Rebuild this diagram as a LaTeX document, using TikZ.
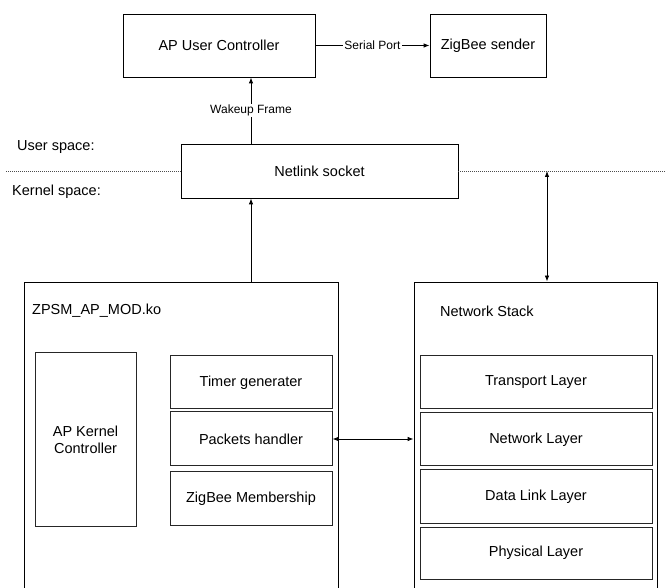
\documentclass[tikz,border=0pt]{standalone}
\usepackage{fontspec}
\setmainfont{Liberation Sans}
\usetikzlibrary{arrows.meta}
\begin{document}
\begin{tikzpicture}[x=1pt,y=-1pt,
  box/.style={draw=black, line width=0.8pt, inner sep=0pt, font=\fontsize{14.5}{17}\selectfont, align=center},
  inbox/.style={draw=black!85, line width=1pt, inner sep=0pt, font=\fontsize{14.5}{17}\selectfont, align=center},
  txt/.style={font=\fontsize{14.5}{17}\selectfont, inner sep=0pt},
  lbl/.style={font=\fontsize{12}{14}\selectfont, fill=white, inner sep=1pt},
  arr/.style={line width=0.8pt, -{Latex[length=6pt,width=4.5pt]}},
  darr/.style={line width=0.8pt, {Latex[length=6pt,width=4.5pt]}-{Latex[length=6pt,width=4.5pt]}},
  dotline/.style={line width=0.6pt, black!70, dash pattern=on 1pt off 1pt}]
\useasboundingbox (0,0) rectangle (665,588);
\clip (0,0) rectangle (665,588);
% top
\node[box, minimum width=192, minimum height=63] (AP) at (219,45.5) {AP User Controller};
\node[box, minimum width=116, minimum height=63] (ZB) at (488,45.5) {ZigBee sender};
\node[box, minimum width=277, minimum height=54] (NL) at (319.5,171) {Netlink socket};
% outer boxes (open at the bottom)
\node[box, minimum width=314, minimum height=338] (ZP) at (181,451) {};
\node[box, minimum width=243, minimum height=338] (NS) at (535.5,451) {};
\node[txt, anchor=west] (zpl) at (32,311) {ZPSM\_AP\_MOD.ko};
\node[txt, anchor=west] (nsl) at (440,311) {Network Stack};
% inner left
\node[inbox, minimum width=101, minimum height=173] (AK) at (85.5,439.5) {AP Kernel\\Controller};
\node[inbox, minimum width=162, minimum height=53] (TG) at (251,382.5) {Timer generater};
\node[inbox, minimum width=162, minimum height=54] (PH) at (251,439) {Packets handler};
\node[inbox, minimum width=162, minimum height=53] (ZM) at (251,498.5) {ZigBee Membership};
% inner right
\node[inbox, minimum width=232, minimum height=53] (TL) at (536,382.5) {Transport Layer};
\node[inbox, minimum width=232, minimum height=53] (NW) at (536,439.5) {Network Layer};
\node[inbox, minimum width=232, minimum height=53] (DL) at (536,496.5) {Data Link Layer};
\node[inbox, minimum width=232, minimum height=52] (PL) at (536,553) {Physical Layer};
% space labels
\node[txt, anchor=west] (us) at (17,147) {User space:};
\node[txt, anchor=west] (ks) at (12,192) {Kernel space:};
% dotted separator
\coordinate (dl) at (6,171);
\coordinate (dr) at (665,171);
\draw[dotline] (dl) -- (NL.west);
\draw[dotline] (NL.east) -- (dr);
% connectors
\draw[arr] (AP.east) -- node[lbl] {Serial Port} (ZB.west);
\coordinate (wx) at (251,0);
\draw[arr] (wx |- NL.north) -- node[lbl] {Wakeup Frame} (wx |- AP.south);
\draw[arr] (wx |- ZP.north) -- (wx |- NL.south);
\coordinate (bt) at (547,171);
\draw[darr] (bt) -- (bt |- NS.north);
\draw[darr] (PH.east) -- (NS.west |- PH.east);
\end{tikzpicture}
\end{document}
